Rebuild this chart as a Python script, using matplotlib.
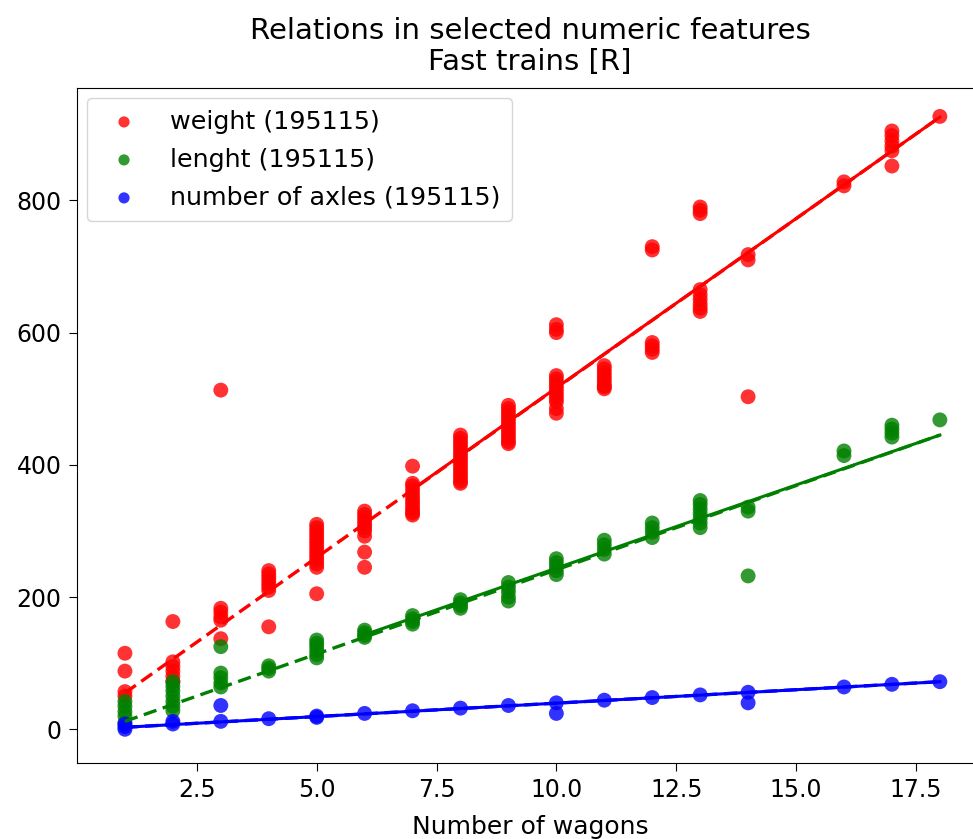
import matplotlib
matplotlib.use("Agg")
import matplotlib.pyplot as plt
import numpy as np

# ---- data ----
weight_x = [1,1,1,1,
            2,2,2,2,2,2,
            3,3,3,3,3,3,
            4,4,4,4,4,4,4,4,
            5,5,5,5,5,5,5,5,5,5,5,5,5,5,5,
            6,6,6,6,6,6,6,6,6,6,
            7,7,7,7,7,7,7,7,7,7,7,7,
            8,8,8,8,8,8,8,8,8,8,8,8,8,8,8,8,
            9,9,9,9,9,9,9,9,9,9,9,9,9,
            10,10,10,10,10,10,10,10,10,10,10,10,10,10,
            11,11,11,11,11,11,11,11,11,
            12,12,12,12,12,12,
            13,13,13,13,13,13,13,13,13,
            14,14,14,
            16,16,
            17,17,17,17,17,17,
            18]
weight_y = [115,88,57,50,
            163,102,95,88,80,72,
            183,177,170,165,137,513,
            240,235,230,225,220,215,210,155,
            310,305,300,295,290,285,280,275,270,265,260,255,250,245,205,
            330,325,320,315,310,305,300,292,268,245,
            398,372,368,362,356,350,345,340,335,330,327,324,
            445,440,435,430,425,420,415,410,405,400,395,390,385,380,375,372,
            490,485,480,475,470,465,460,455,450,445,440,435,432,
            612,605,600,535,530,525,520,515,510,505,500,495,485,478,
            550,545,540,535,530,525,520,518,515,
            730,725,585,580,575,570,
            790,785,780,665,657,650,643,637,632,
            718,710,503,
            828,822,
            905,898,890,882,875,852,
            927]

length_x = [1,1,1,1,1, 2,2,2,2,2,2,2, 3,3,3,3,3, 4,4,4, 5,5,5,5,5,5, 6,6,6,6,
            7,7,7,7, 8,8,8,8, 9,9,9,9,9, 10,10,10,10,10, 11,11,11,11,
            12,12,12,12, 13,13,13,13,13,13,13, 14,14,14, 16,16, 17,17,17,17, 18]
length_y = [42,35,27,20,10, 72,65,58,50,42,35,28, 125,85,78,70,64, 96,92,88,
            135,130,125,119,113,108, 150,146,142,139, 172,167,163,159, 196,191,187,183,
            222,215,208,200,194, 258,252,246,240,234, 286,279,272,265,
            312,305,298,290, 346,340,333,326,319,312,305, 336,330,232,
            421,414, 460,454,448,442, 468]

axles_x = [1,1,1, 2,2, 3,3, 4, 5,5, 6, 7, 8, 9, 10,10, 11, 12, 13, 14,14, 16, 17, 18]
axles_y = [8,4,0, 12,8, 36,12, 16, 20,18, 24, 28, 32, 36, 40,24, 44, 48, 52, 56,40, 64, 68, 72]

labels = ["weight (195115)", "lenght (195115)", "number of axles (195115)"]
colors = ["red", "green", "blue"]

# fitted lines: (x_start, x_end, y_start, y_end)
dashed_fits = [(1, 18, 55, 926), (1, 18, 12, 445), (1, 18, 3, 72)]
solid_fits = [(7, 18, 363, 926), (6, 18, 143, 445), (1, 18, 3, 72)]

# ---- figure ----
fig = plt.figure(figsize=(9.73, 8.39), dpi=100)
ax = fig.add_axes([77/973, 76/839, 906/973, 675/839])

series = [(weight_x, weight_y), (length_x, length_y), (axles_x, axles_y)]
for (xs, ys), lab, col, df, sf in zip(series, labels, colors, dashed_fits, solid_fits):
    ax.scatter(xs, ys, s=115, color=col, alpha=0.8, edgecolors="none", label=lab, zorder=2)
    ax.plot([sf[0], sf[1]], [sf[2], sf[3]], color=col, lw=2.2, ls="-", zorder=3)
    ax.plot([df[0], df[1]], [df[2], df[3]], color=col, lw=2.4, ls=(0, (4, 2)), zorder=3)

ax.set_xlim(0.0, 18.9)
ax.set_ylim(-51, 970)
ax.set_xticks([2.5, 5.0, 7.5, 10.0, 12.5, 15.0, 17.5])
ax.set_yticks([0, 200, 400, 600, 800])
ax.tick_params(labelsize=17, length=6, pad=5)
ax.set_xlabel("Number of wagons", fontsize=18, labelpad=9)
ax.set_title("Relations in selected numeric features\nFast trains [R]", fontsize=21, pad=13,
             linespacing=1.15)
ax.legend(loc="upper left", fontsize=18.3, markerscale=0.75, borderpad=0.45,
          handletextpad=0.8, labelspacing=0.55, borderaxespad=0.4)

fig.savefig("out.png", dpi=100)
